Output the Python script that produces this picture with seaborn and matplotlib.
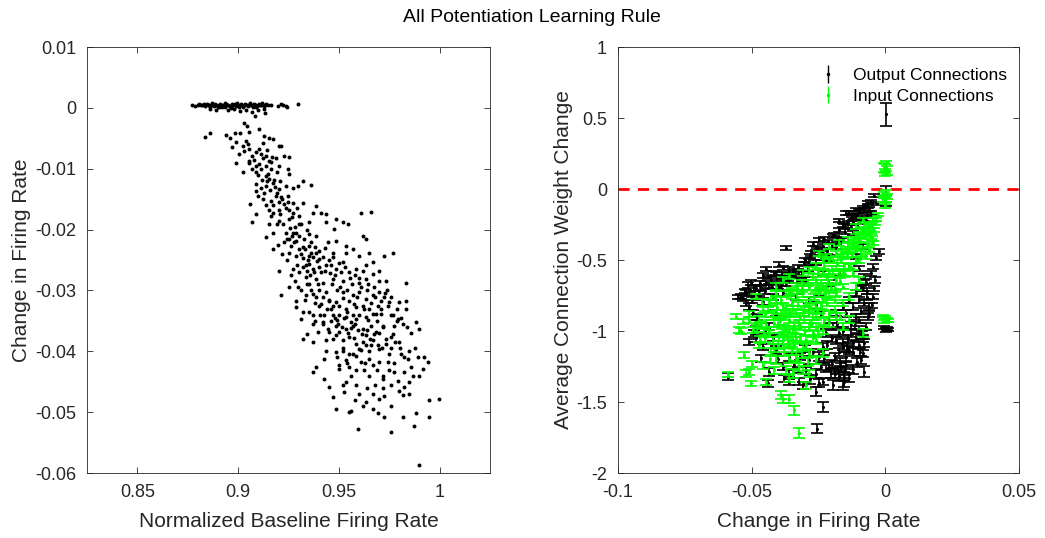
import numpy as np
import pandas as pd
import matplotlib
matplotlib.use("Agg")
import matplotlib.pyplot as plt
import seaborn as sns
from matplotlib.ticker import FuncFormatter

# ---------------- Left panel data ----------------
# top cluster (near zero change)
cluster_rate = [
    0.8770, 0.8785, 0.8800, 0.8808, 0.8815, 0.8822, 0.8830, 0.8836, 0.8843, 0.8850,
    0.8856, 0.8862, 0.8868, 0.8875, 0.8880, 0.8886, 0.8892, 0.8898, 0.8904, 0.8910,
    0.8916, 0.8922, 0.8928, 0.8934, 0.8940, 0.8946, 0.8952, 0.8958, 0.8964, 0.8970,
    0.8976, 0.8982, 0.8988, 0.8994, 0.9000, 0.9006, 0.9012, 0.9018, 0.9024, 0.9030,
    0.9036, 0.9042, 0.9048, 0.9054, 0.9060, 0.9066, 0.9072, 0.9078, 0.9084, 0.9090,
    0.9096, 0.9102, 0.9108, 0.9114, 0.9120, 0.9126, 0.9132, 0.9140, 0.9150, 0.9165,
    0.9200, 0.9215, 0.9225, 0.9235, 0.9242, 0.9296,
    0.8860, 0.8890, 0.8920, 0.8950, 0.8980, 0.9010, 0.9040, 0.9070, 0.9100, 0.9130,
    0.8870, 0.8905, 0.8935, 0.8965, 0.8995, 0.9025, 0.9058, 0.9088, 0.9118,
]
cluster_change = [
    0.0004, 0.0003, 0.0005, 0.0006, 0.0004, 0.0005, 0.0007, 0.0003, 0.0006, 0.0005,
    0.0004, 0.0002, 0.0006, 0.0005, 0.0003, 0.0007, 0.0004, 0.0002, 0.0005, 0.0006,
    0.0003, 0.0005, 0.0004, 0.0001, 0.0006, 0.0004, 0.0005, 0.0003, 0.0002, 0.0006,
    0.0004, 0.0007, 0.0003, 0.0005, 0.0004, 0.0002, 0.0006, 0.0005, 0.0003, 0.0004,
    0.0006, 0.0005, 0.0003, 0.0004, 0.0007, 0.0005, 0.0002, 0.0006, 0.0004, 0.0005,
    0.0003, 0.0006, 0.0005, 0.0004, 0.0006, 0.0003, 0.0005, 0.0007, 0.0004, 0.0005,
    0.0003, 0.0006, 0.0005, 0.0003, 0.0002, 0.0006,
    -0.0002, -0.0003, 0.0001, -0.0004, -0.0002, -0.0005, -0.0003, -0.0006, -0.0004, -0.0002,
    0.0008, 0.0001, 0.0008, 0.0000, 0.0008, 0.0001, 0.0008, 0.0002, 0.0008,
]
# main cloud
cloud_rate = [
    0.9030, 0.9083, 0.9131, 0.8836, 0.8861, 0.8939, 0.8983, 0.9010, 0.9055, 0.9104,
    0.9129, 0.9154, 0.9171, 0.9204, 0.9212, 0.8969, 0.8988, 0.9022, 0.9038, 0.9055,
    0.9030, 0.9104, 0.9121, 0.9071, 0.9079, 0.9113, 0.9121, 0.9137, 0.9154, 0.9187,
    0.9228, 0.9253, 0.8988, 0.9055, 0.9088, 0.9104, 0.9137, 0.9162, 0.9204, 0.9245,
    0.9022, 0.9088, 0.9137, 0.9154, 0.9171, 0.9253, 0.9088, 0.9113, 0.9137, 0.9204,
    0.9237, 0.9270, 0.9295, 0.9361, 0.9320, 0.9058, 0.9121, 0.9162, 0.9187, 0.9220,
    0.9245, 0.9270, 0.9320, 0.9386, 0.9088, 0.9154, 0.9171, 0.9204, 0.9237, 0.9270,
    0.9303, 0.9369, 0.9411, 0.9436, 0.9071, 0.9154, 0.9204, 0.9253, 0.9303, 0.9353,
    0.9436, 0.9485, 0.9518, 0.9543, 0.9137, 0.9171, 0.9237, 0.9253, 0.9270, 0.9303,
    0.9353, 0.9386, 0.9477, 0.9609, 0.9659, 0.9229, 0.9262, 0.9287, 0.9320, 0.9353,
    0.9386, 0.9444, 0.9485, 0.9535, 0.9568, 0.9618, 0.9634, 0.9253, 0.9287, 0.9320,
    0.9353, 0.9402, 0.9469, 0.9535, 0.9601, 0.9651, 0.9725, 0.9767, 0.9204, 0.9270,
    0.9336, 0.9353, 0.9369, 0.9402, 0.9436, 0.9485, 0.9518, 0.9585, 0.9634, 0.9667,
    0.9700, 0.9253, 0.9295, 0.9336, 0.9353, 0.9386, 0.9419, 0.9469, 0.9518, 0.9552,
    0.9601, 0.9634, 0.9667, 0.9734, 0.9833, 0.9215, 0.9287, 0.9336, 0.9369, 0.9436,
    0.9452, 0.9485, 0.9518, 0.9568, 0.9601, 0.9634, 0.9667, 0.9700, 0.9725, 0.9287,
    0.9320, 0.9369, 0.9402, 0.9460, 0.9502, 0.9535, 0.9585, 0.9618, 0.9651, 0.9692,
    0.9750, 0.9800, 0.9833, 0.9311, 0.9369, 0.9419, 0.9469, 0.9493, 0.9535, 0.9560,
    0.9585, 0.9634, 0.9667, 0.9709, 0.9758, 0.9792, 0.9833, 0.9344, 0.9394, 0.9444,
    0.9485, 0.9502, 0.9535, 0.9568, 0.9618, 0.9659, 0.9684, 0.9717, 0.9775, 0.9816,
    0.9882, 0.9899, 0.9320, 0.9369, 0.9436, 0.9485, 0.9518, 0.9552, 0.9585, 0.9634,
    0.9667, 0.9734, 0.9758, 0.9800, 0.9767, 0.9436, 0.9485, 0.9518, 0.9552, 0.9601,
    0.9634, 0.9651, 0.9700, 0.9750, 0.9808, 0.9849, 0.9386, 0.9427, 0.9502, 0.9535,
    0.9585, 0.9609, 0.9651, 0.9667, 0.9700, 0.9742, 0.9775, 0.9841, 0.9891, 0.9924,
    0.9940, 0.9369, 0.9502, 0.9552, 0.9585, 0.9626, 0.9775, 0.9825, 0.9916, 0.9427,
    0.9452, 0.9518, 0.9535, 0.9585, 0.9717, 0.9792, 0.9849, 0.9825, 0.9469, 0.9527,
    0.9667, 0.9700, 0.9725, 0.9816, 0.9485, 0.9552, 0.9560, 0.9634, 0.9667, 0.9692,
    0.9725, 0.9816, 0.9882, 0.9949, 0.9998, 0.9949, 0.9593, 0.9758, 0.9874, 0.9896,
    0.9180, 0.9195, 0.9215, 0.9230, 0.9245, 0.9175, 0.9160, 0.9150, 0.9120, 0.9100,
    0.9210, 0.9225, 0.9255, 0.9280, 0.9275, 0.9300, 0.9310, 0.9330, 0.9345, 0.9360,
    0.9340, 0.9355, 0.9375, 0.9390, 0.9410, 0.9430, 0.9450, 0.9455, 0.9465, 0.9480,
    0.9490, 0.9505, 0.9520, 0.9540, 0.9550, 0.9565, 0.9575, 0.9590, 0.9610, 0.9625,
    0.9640, 0.9660, 0.9680, 0.9690, 0.9710, 0.9720, 0.9740, 0.9500, 0.9515, 0.9545,
    0.9575, 0.9595, 0.9620, 0.9645, 0.9660, 0.9700, 0.9570, 0.9460, 0.9440, 0.9420,
    0.9400, 0.9380, 0.9395, 0.9370, 0.9320, 0.9300, 0.9290, 0.9265, 0.9240, 0.9195,
    0.9175, 0.9165, 0.9140, 0.9130, 0.9090, 0.9070, 0.9055, 0.9005, 0.8960, 0.9045,
    0.9050, 0.9090, 0.9145, 0.9170, 0.9115, 0.9165, 0.9195, 0.9210, 0.9100, 0.9145,
    0.9185, 0.9205, 0.9250, 0.9265, 0.9290, 0.9310, 0.9340, 0.9285, 0.9325, 0.9360,
    0.9380, 0.9400, 0.9420, 0.9430, 0.9460, 0.9470, 0.9500, 0.9510, 0.9530, 0.9555,
    0.9580, 0.9600, 0.9620, 0.9645, 0.9675, 0.9700, 0.9730, 0.9760, 0.9790, 0.9810,
    0.9340, 0.9360, 0.9385, 0.9410, 0.9425, 0.9450, 0.9470, 0.9480, 0.9495, 0.9525,
    0.9540, 0.9560, 0.9580, 0.9600, 0.9615, 0.9640, 0.9655, 0.9675, 0.9695, 0.9715,
    0.9735, 0.9760, 0.9780, 0.9805, 0.9825, 0.9860, 0.9870, 0.9750, 0.9720, 0.9690,
    0.9650, 0.9630, 0.9610, 0.9570, 0.9540, 0.9520, 0.9490, 0.9470, 0.9450, 0.9420,
    0.9405, 0.9380, 0.9350, 0.9330, 0.9310, 0.9280, 0.9260, 0.9240, 0.9220, 0.9200,
    0.9720, 0.9760, 0.9800, 0.9680, 0.9640, 0.9600, 0.9560, 0.9620, 0.9580, 0.9760,
    0.9850, 0.9900, 0.9880, 0.9860, 0.9840, 0.9790, 0.9770, 0.9745, 0.9710, 0.9685,
]
cloud_change = [
    -0.0025, -0.0014, -0.0009, -0.0048, -0.0041, -0.0045, -0.0042, -0.0041, -0.0040, -0.0035,
    -0.0046, -0.0049, -0.0051, -0.0063, -0.0062, -0.0064, -0.0056, -0.0063, -0.0055, -0.0068,
    -0.0071, -0.0068, -0.0057, -0.0079, -0.0085, -0.0076, -0.0082, -0.0079, -0.0087, -0.0082,
    -0.0079, -0.0080, -0.0091, -0.0090, -0.0096, -0.0093, -0.0096, -0.0089, -0.0096, -0.0101,
    -0.0106, -0.0106, -0.0112, -0.0117, -0.0123, -0.0109, -0.0137, -0.0131, -0.0128, -0.0134,
    -0.0128, -0.0131, -0.0128, -0.0127, -0.0120, -0.0158, -0.0150, -0.0153, -0.0145, -0.0150,
    -0.0155, -0.0156, -0.0156, -0.0161, -0.0175, -0.0167, -0.0172, -0.0167, -0.0164, -0.0172,
    -0.0177, -0.0172, -0.0172, -0.0175, -0.0188, -0.0191, -0.0186, -0.0183, -0.0191, -0.0188,
    -0.0188, -0.0183, -0.0188, -0.0191, -0.0213, -0.0232, -0.0205, -0.0216, -0.0205, -0.0210,
    -0.0207, -0.0210, -0.0199, -0.0172, -0.0171, -0.0221, -0.0227, -0.0218, -0.0229, -0.0227,
    -0.0238, -0.0221, -0.0218, -0.0227, -0.0232, -0.0210, -0.0216, -0.0238, -0.0243, -0.0246,
    -0.0243, -0.0248, -0.0238, -0.0238, -0.0243, -0.0238, -0.0243, -0.0238, -0.0268, -0.0265,
    -0.0259, -0.0257, -0.0265, -0.0262, -0.0259, -0.0265, -0.0254, -0.0265, -0.0259, -0.0254,
    -0.0268, -0.0295, -0.0295, -0.0278, -0.0289, -0.0281, -0.0287, -0.0281, -0.0284, -0.0270,
    -0.0287, -0.0281, -0.0273, -0.0284, -0.0287, -0.0308, -0.0317, -0.0308, -0.0306, -0.0303,
    -0.0317, -0.0319, -0.0303, -0.0308, -0.0303, -0.0314, -0.0308, -0.0303, -0.0311, -0.0328,
    -0.0336, -0.0341, -0.0325, -0.0330, -0.0325, -0.0330, -0.0328, -0.0325, -0.0330, -0.0325,
    -0.0319, -0.0319, -0.0317, -0.0347, -0.0355, -0.0352, -0.0341, -0.0349, -0.0344, -0.0352,
    -0.0347, -0.0344, -0.0339, -0.0339, -0.0341, -0.0347, -0.0330, -0.0371, -0.0369, -0.0363,
    -0.0358, -0.0369, -0.0363, -0.0358, -0.0363, -0.0358, -0.0369, -0.0358, -0.0358, -0.0355,
    -0.0352, -0.0363, -0.0379, -0.0385, -0.0382, -0.0374, -0.0382, -0.0377, -0.0388, -0.0374,
    -0.0382, -0.0379, -0.0377, -0.0385, -0.0371, -0.0399, -0.0401, -0.0399, -0.0404, -0.0396,
    -0.0390, -0.0399, -0.0396, -0.0404, -0.0404, -0.0399, -0.0426, -0.0412, -0.0423, -0.0415,
    -0.0407, -0.0418, -0.0412, -0.0423, -0.0418, -0.0418, -0.0420, -0.0412, -0.0410, -0.0410,
    -0.0418, -0.0434, -0.0429, -0.0426, -0.0431, -0.0431, -0.0434, -0.0434, -0.0429, -0.0445,
    -0.0459, -0.0456, -0.0450, -0.0456, -0.0445, -0.0448, -0.0450, -0.0459, -0.0475, -0.0467,
    -0.0470, -0.0478, -0.0473, -0.0472, -0.0494, -0.0500, -0.0498, -0.0483, -0.0494, -0.0502,
    -0.0508, -0.0508, -0.0502, -0.0480, -0.0478, -0.0508, -0.0527, -0.0533, -0.0522, -0.0587,
    -0.0118, -0.0140, -0.0147, -0.0158, -0.0144, -0.0160, -0.0135, -0.0108, -0.0118, -0.0110,
    -0.0175, -0.0190, -0.0198, -0.0196, -0.0220, -0.0232, -0.0240, -0.0232, -0.0250, -0.0238,
    -0.0268, -0.0275, -0.0270, -0.0252, -0.0270, -0.0268, -0.0250, -0.0272, -0.0290, -0.0275,
    -0.0300, -0.0295, -0.0312, -0.0300, -0.0318, -0.0290, -0.0322, -0.0310, -0.0295, -0.0330,
    -0.0300, -0.0320, -0.0310, -0.0350, -0.0318, -0.0360, -0.0300, -0.0340, -0.0360, -0.0370,
    -0.0378, -0.0365, -0.0385, -0.0348, -0.0390, -0.0370, -0.0340, -0.0350, -0.0330, -0.0310,
    -0.0300, -0.0320, -0.0290, -0.0245, -0.0262, -0.0270, -0.0258, -0.0210, -0.0215, -0.0190,
    -0.0205, -0.0178, -0.0160, -0.0140, -0.0125, -0.0100, -0.0088, -0.0075, -0.0050, -0.0030,
    -0.0060, -0.0072, -0.0070, -0.0080, -0.0100, -0.0100, -0.0105, -0.0120, -0.0145, -0.0120,
    -0.0130, -0.0155, -0.0168, -0.0180, -0.0165, -0.0190, -0.0200, -0.0205, -0.0215, -0.0220,
    -0.0228, -0.0235, -0.0245, -0.0230, -0.0258, -0.0245, -0.0255, -0.0270, -0.0262, -0.0280,
    -0.0275, -0.0280, -0.0268, -0.0290, -0.0295, -0.0285, -0.0305, -0.0310, -0.0330, -0.0345,
    -0.0290, -0.0300, -0.0310, -0.0322, -0.0340, -0.0315, -0.0325, -0.0345, -0.0355, -0.0345,
    -0.0335, -0.0362, -0.0355, -0.0340, -0.0372, -0.0365, -0.0380, -0.0372, -0.0390, -0.0395,
    -0.0388, -0.0395, -0.0385, -0.0395, -0.0410, -0.0425, -0.0440, -0.0430, -0.0440, -0.0430,
    -0.0440, -0.0420, -0.0398, -0.0405, -0.0420, -0.0395, -0.0410, -0.0380, -0.0368, -0.0355,
    -0.0340, -0.0350, -0.0335, -0.0315, -0.0300, -0.0285, -0.0275, -0.0250, -0.0240, -0.0225,
    -0.0460, -0.0455, -0.0465, -0.0455, -0.0460, -0.0470, -0.0440, -0.0490, -0.0480, -0.0490,
    -0.0470, -0.0440, -0.0395, -0.0370, -0.0360, -0.0350, -0.0340, -0.0325, -0.0330, -0.0338,
]

# ---------------- Right panel data ----------------
output_rate = [
    0.0002, 0.0002, -0.0004, 0.0006, 0.0001, 0.0010,
    -0.0372, -0.0446, -0.0459, -0.0515, -0.0502, -0.0428, -0.0397, -0.0384, -0.0359, -0.0340,
    -0.0303, -0.0284, -0.0272, -0.0247, -0.0228, -0.0191, -0.0160, -0.0172, -0.0141, -0.0122,
    -0.0110, -0.0097, -0.0085, -0.0079, -0.0066, -0.0054, -0.0041, -0.0135, -0.0116, -0.0234,
    -0.0209, -0.0322, -0.0415, -0.0359, -0.0309, -0.0484, -0.0534, -0.0521, -0.0509, -0.0471,
    -0.0459, -0.0496, -0.0484, -0.0490, -0.0509, -0.0484, -0.0459, -0.0465, -0.0434, -0.0440,
    -0.0378, -0.0359, -0.0322, -0.0309, -0.0328, -0.0384, -0.0590, -0.0254, -0.0234, -0.0259,
    -0.0247, -0.0234, -0.0160, -0.0153, -0.0178, -0.0166, -0.0147, -0.0203, -0.0222, -0.0079,
    -0.0091, -0.0085, -0.0079, -0.0087, -0.0072, -0.0066, -0.0060, -0.0047, -0.0041, -0.0037,
    -0.0054, -0.0047, -0.0035, -0.0022, -0.0097, -0.0110, -0.0122, -0.0135, -0.0147, -0.0160,
    -0.0185, -0.0172, -0.0197, -0.0209, -0.0147, -0.0122, -0.0097, -0.0110, -0.0085, -0.0072,
    -0.0135, -0.0160, -0.0185, -0.0222, -0.0234, -0.0247, -0.0284, -0.0297, -0.0359, -0.0409,
    -0.0434, -0.0409, -0.0384, -0.0334, -0.0284, -0.0247, -0.0209, -0.0172, -0.0135, -0.0110,
    -0.0085, -0.0521, -0.0540, -0.0434, -0.0403, -0.0359, -0.0278, -0.0259, -0.0297, -0.0234,
    -0.0185, -0.0160, -0.0122, -0.0104, -0.0072, -0.0054, -0.0110, -0.0147,
    -0.0450, -0.0420, -0.0390, -0.0370, -0.0330, -0.0310, -0.0290, -0.0260, -0.0240, -0.0220,
    -0.0200, -0.0180, -0.0150, -0.0130, -0.0100, -0.0070, -0.0060, -0.0030, -0.0100, -0.0080,
    -0.0090, -0.0070, -0.0060, -0.0050, -0.0110, -0.0130, -0.0100, -0.0120, -0.0140, -0.0160,
    -0.0180, -0.0200, -0.0220, -0.0190, -0.0170, -0.0150, -0.0200, -0.0240, -0.0260, -0.0280,
    -0.0270, -0.0300, -0.0320, -0.0340, -0.0360, -0.0400, -0.0420, -0.0450, -0.0480, -0.0500,
    -0.0550, -0.0525, -0.0490, -0.0470, -0.0440, -0.0410, -0.0395, -0.0365, -0.0240, -0.0260,
    -0.0230, -0.0210, -0.0190, -0.0175, -0.0160, -0.0145, -0.0130, -0.0115, -0.0100, -0.0090,
    -0.0080, -0.0070, -0.0085, -0.0095, -0.0105, -0.0120, -0.0135, -0.0155, -0.0175, -0.0195,
    -0.0505, -0.0485, -0.0465, -0.0445, -0.0425, -0.0405, -0.0385, -0.0345, -0.0325, -0.0300,
    -0.0280, -0.0255, -0.0235, -0.0215, -0.0195, -0.0175, -0.0155, -0.0125, -0.0105, -0.0065,
]
output_weight = [
    0.525, -0.050, -0.974, -0.984, -0.993, -0.988,
    -0.416, -0.565, -0.612, -0.675, -0.659, -0.640, -0.534, -0.558, -0.569, -0.593,
    -0.527, -0.511, -0.386, -0.358, -0.351, -0.322, -0.252, -0.224, -0.235, -0.235,
    -0.216, -0.158, -0.134, -0.146, -0.099, -0.087, -0.047, -0.169, -0.193, -0.452,
    -0.487, -0.605, -0.593, -0.640, -0.664, -0.699, -0.769, -0.805, -0.828, -0.734,
    -0.793, -0.875, -0.946, -1.016, -1.075, -1.052, -1.111, -1.193, -1.287, -1.369,
    -1.334, -1.358, -1.358, -1.381, -1.275, -1.252, -1.322, -1.687, -1.534, -1.428,
    -1.369, -1.358, -1.381, -1.322, -1.275, -1.252, -1.240, -1.299, -1.264, -1.287,
    -1.205, -1.158, -1.087, -1.028, -0.969, -0.899, -0.828, -0.758, -0.699, -0.640,
    -0.593, -0.546, -0.487, -0.440, -0.993, -1.040, -1.087, -1.134, -1.181, -1.111,
    -1.064, -1.016, -0.969, -0.922, -0.875, -0.828, -0.781, -0.734, -0.699, -0.652,
    -0.781, -0.828, -0.875, -1.016, -1.111, -1.181, -1.205, -1.275, -1.181, -1.134,
    -0.969, -0.875, -0.734, -0.758, -0.781, -0.734, -0.664, -0.593, -0.546, -0.475,
    -0.405, -0.734, -0.758, -0.687, -0.687, -0.734, -0.452, -0.416, -0.640, -0.593,
    -0.405, -0.358, -0.311, -0.264, -0.216, -0.169, -0.146, -0.169,
    -0.720, -0.760, -0.700, -0.660, -0.640, -0.600, -0.560, -0.520, -0.480, -0.440,
    -0.400, -0.350, -0.300, -0.270, -0.230, -0.180, -0.140, -0.100, -0.560, -0.620,
    -0.700, -0.760, -0.880, -0.820, -0.900, -0.960, -1.100, -1.150, -1.050, -1.000,
    -0.950, -1.050, -1.100, -1.180, -1.220, -1.280, -1.230, -1.250, -1.300, -1.340,
    -1.150, -1.120, -1.180, -1.240, -1.300, -1.200, -1.050, -1.000, -0.900, -0.780,
    -0.760, -0.720, -0.700, -0.660, -0.620, -0.600, -0.620, -0.630, -0.880, -0.820,
    -1.200, -1.250, -1.300, -1.150, -1.080, -1.120, -1.020, -0.960, -0.920, -0.860,
    -0.800, -0.720, -1.050, -1.150, -1.220, -1.270, -1.330, -1.360, -1.320, -1.380,
    -0.740, -0.770, -0.700, -0.660, -0.690, -0.630, -0.600, -0.580, -0.550, -0.500,
    -0.470, -0.430, -0.400, -0.370, -0.330, -0.290, -0.260, -0.210, -0.180, -0.120,
]
output_err = [
    0.078, 0.070, 0.012, 0.010, 0.012, 0.010,
    0.012, 0.015, 0.018, 0.020, 0.015, 0.020, 0.018, 0.015, 0.020, 0.018,
    0.015, 0.018, 0.015, 0.012, 0.015, 0.012, 0.015, 0.010, 0.012, 0.015,
    0.012, 0.015, 0.012, 0.015, 0.012, 0.010, 0.010, 0.015, 0.015, 0.018,
    0.020, 0.020, 0.018, 0.020, 0.018, 0.020, 0.022, 0.020, 0.022, 0.020,
    0.022, 0.025, 0.022, 0.025, 0.022, 0.025, 0.022, 0.025, 0.028, 0.025,
    0.025, 0.022, 0.025, 0.025, 0.022, 0.025, 0.025, 0.032, 0.035, 0.032,
    0.028, 0.025, 0.035, 0.030, 0.025, 0.028, 0.025, 0.030, 0.025, 0.038,
    0.030, 0.025, 0.028, 0.025, 0.022, 0.025, 0.022, 0.020, 0.018, 0.020,
    0.018, 0.020, 0.015, 0.015, 0.025, 0.028, 0.025, 0.028, 0.030, 0.025,
    0.025, 0.028, 0.025, 0.022, 0.025, 0.022, 0.020, 0.022, 0.020, 0.018,
    0.022, 0.025, 0.022, 0.028, 0.025, 0.030, 0.028, 0.025, 0.028, 0.025,
    0.025, 0.022, 0.020, 0.022, 0.020, 0.022, 0.020, 0.018, 0.020, 0.018,
    0.018, 0.020, 0.018, 0.020, 0.018, 0.020, 0.018, 0.015, 0.020, 0.018,
    0.015, 0.015, 0.012, 0.015, 0.012, 0.012, 0.012, 0.012,
    0.020, 0.020, 0.020, 0.020, 0.020, 0.020, 0.020, 0.018, 0.018, 0.018,
    0.018, 0.015, 0.015, 0.015, 0.015, 0.012, 0.012, 0.012, 0.020, 0.020,
    0.020, 0.020, 0.022, 0.020, 0.022, 0.025, 0.025, 0.028, 0.025, 0.025,
    0.025, 0.025, 0.028, 0.028, 0.028, 0.030, 0.028, 0.028, 0.030, 0.030,
    0.025, 0.025, 0.025, 0.025, 0.025, 0.025, 0.022, 0.022, 0.022, 0.020,
    0.015, 0.015, 0.015, 0.015, 0.015, 0.015, 0.015, 0.015, 0.022, 0.022,
    0.028, 0.030, 0.030, 0.028, 0.025, 0.028, 0.025, 0.025, 0.022, 0.022,
    0.022, 0.020, 0.025, 0.028, 0.030, 0.030, 0.032, 0.032, 0.030, 0.032,
    0.015, 0.015, 0.015, 0.015, 0.015, 0.015, 0.015, 0.015, 0.015, 0.015,
    0.015, 0.015, 0.012, 0.012, 0.012, 0.012, 0.012, 0.012, 0.012, 0.012,
]

input_rate = [
    0.0002, -0.0002, 0.0005, 0.0000, -0.0005,
    -0.0004, 0.0002, 0.0000, 0.0006, -0.0002, -0.0008, 0.0004,
    -0.0010, -0.0002, 0.0005, 0.0011, -0.0004,
    -0.0590, -0.0527, -0.0509, -0.0502, -0.0446, -0.0390, -0.0384, -0.0359, -0.0340, -0.0324,
    -0.0297, -0.0546, -0.0534, -0.0496, -0.0471, -0.0484, -0.0459, -0.0428, -0.0459, -0.0409,
    -0.0415, -0.0372, -0.0359, -0.0309, -0.0284,
    -0.0434, -0.0415, -0.0397, -0.0384, -0.0372, -0.0359, -0.0347, -0.0334, -0.0322, -0.0309,
    -0.0297, -0.0284, -0.0272, -0.0259, -0.0359, -0.0334, -0.0309, -0.0284, -0.0384, -0.0409,
    -0.0434, -0.0359, -0.0334, -0.0309, -0.0284, -0.0259, -0.0234, -0.0247, -0.0222, -0.0209,
    -0.0234, -0.0209, -0.0384, -0.0409, -0.0359, -0.0309, -0.0284, -0.0259, -0.0234, -0.0247,
    -0.0222, -0.0209, -0.0197, -0.0185, -0.0172, -0.0160, -0.0147, -0.0141, -0.0122, -0.0110,
    -0.0097, -0.0085, -0.0072, -0.0066, -0.0054, -0.0047, -0.0041, -0.0035, -0.0029, -0.0047,
    -0.0085, -0.0110, -0.0135, -0.0160, -0.0185, -0.0122, -0.0097, -0.0110, -0.0135, -0.0160,
    -0.0185, -0.0209, -0.0234, -0.0259, -0.0234, -0.0259, -0.0160, -0.0135, -0.0085, -0.0347,
    -0.0397, -0.0421, -0.0453, -0.0471, -0.0509, -0.0334, -0.0372, -0.0297, -0.0272, -0.0322,
    -0.0347, -0.0234, -0.0259, -0.0284, -0.0185, -0.0160, -0.0072, -0.0060, -0.0097,
    -0.0420, -0.0400, -0.0380, -0.0360, -0.0340, -0.0320, -0.0300, -0.0280, -0.0260, -0.0240,
    -0.0220, -0.0200, -0.0180, -0.0160, -0.0140, -0.0120, -0.0100, -0.0080, -0.0060, -0.0040,
    -0.0390, -0.0370, -0.0350, -0.0330, -0.0310, -0.0290, -0.0270, -0.0250, -0.0230, -0.0210,
    -0.0400, -0.0380, -0.0360, -0.0340, -0.0320, -0.0300, -0.0280, -0.0260, -0.0240, -0.0220,
    -0.0440, -0.0460, -0.0470, -0.0450, -0.0430, -0.0500, -0.0520, -0.0560, -0.0540, -0.0510,
    -0.0190, -0.0170, -0.0150, -0.0130, -0.0110, -0.0090, -0.0070, -0.0050, -0.0190, -0.0170,
    -0.0445, -0.0435, -0.0425, -0.0415, -0.0405, -0.0395, -0.0385, -0.0375, -0.0365, -0.0355,
    -0.0345, -0.0335, -0.0325, -0.0315, -0.0305, -0.0295, -0.0285, -0.0275, -0.0265, -0.0255,
    -0.0245, -0.0235, -0.0225, -0.0215, -0.0205, -0.0195, -0.0185, -0.0175, -0.0165, -0.0155,
    -0.0145, -0.0135, -0.0125, -0.0115, -0.0105, -0.0095, -0.0085, -0.0075, -0.0065, -0.0055,
    -0.0390, -0.0370, -0.0350, -0.0330, -0.0310, -0.0410, -0.0430, -0.0450, -0.0480, -0.0470,
    -0.0380, -0.0350, -0.0330, -0.0310, -0.0290, -0.0270, -0.0250, -0.0230, -0.0210, -0.0190,
]
input_weight = [
    0.165, 0.146, 0.132, 0.118, 0.153,
    -0.040, -0.064, -0.087, -0.052, -0.111, -0.071, -0.028,
    -0.894, -0.904, -0.922, -0.927, -0.934,
    -1.306, -1.169, -1.287, -1.369, -1.358, -1.452, -1.482, -1.482, -1.558, -1.718,
    -1.381, -0.993, -0.934, -0.993, -1.099, -0.758, -0.852, -1.146, -1.240, -1.205,
    -1.275, -1.275, -1.334, -1.275, -1.299,
    -0.993, -0.946, -0.899, -1.064, -0.993, -0.922, -0.852, -1.016, -0.946, -0.875,
    -0.805, -0.969, -0.899, -0.828, -1.093, -1.181, -1.111, -1.158, -0.828, -0.781,
    -0.805, -0.734, -0.687, -0.734, -0.687, -0.640, -0.593, -0.734, -0.687, -0.593,
    -0.781, -0.758, -0.640, -0.687, -0.616, -0.593, -0.569, -0.546, -0.499, -0.452,
    -0.475, -0.405, -0.499, -0.452, -0.381, -0.475, -0.428, -0.358, -0.405, -0.334,
    -0.358, -0.287, -0.311, -0.252, -0.334, -0.381, -0.287, -0.216, -0.181, -0.216,
    -0.216, -0.264, -0.546, -0.593, -0.640, -0.593, -0.640, -0.687, -0.758, -0.805,
    -0.899, -0.946, -0.993, -1.064, -1.158, -1.205, -0.969, -0.922, -1.016, -1.064,
    -1.040, -1.064, -1.016, -0.922, -0.922, -0.875, -0.875, -1.064, -1.016, -1.252,
    -1.299, -0.875, -0.969, -0.875, -0.734, -0.687, -0.475, -0.428, -0.499,
    -0.900, -0.950, -0.980, -1.000, -0.960, -0.900, -0.850, -0.780, -0.700, -0.660,
    -0.620, -0.560, -0.520, -0.440, -0.400, -0.380, -0.320, -0.300, -0.270, -0.240,
    -0.880, -0.840, -0.800, -0.760, -0.700, -0.660, -0.620, -0.580, -0.540, -0.500,
    -1.100, -1.150, -1.200, -1.100, -1.050, -1.000, -0.950, -0.900, -0.820, -0.800,
    -0.850, -0.800, -0.960, -1.050, -1.200, -1.230, -1.300, -0.900, -1.000, -0.880,
    -0.700, -0.650, -0.600, -0.550, -0.500, -0.450, -0.400, -0.350, -0.850, -0.900,
    -0.950, -1.020, -0.880, -1.120, -0.830, -0.930, -1.010, -0.900, -1.080, -0.870,
    -0.990, -1.050, -0.820, -0.970, -0.920, -1.100, -0.840, -0.950, -0.760, -0.860,
    -0.720, -0.680, -0.740, -0.640, -0.700, -0.600, -0.560, -0.580, -0.500, -0.540,
    -0.470, -0.440, -0.460, -0.400, -0.420, -0.360, -0.340, -0.300, -0.320, -0.260,
    -0.780, -0.740, -0.720, -0.700, -0.660, -0.740, -0.800, -0.880, -0.980, -1.060,
    -1.120, -1.140, -1.200, -1.160, -1.220, -1.050, -1.000, -0.930, -0.880, -0.780,
]
input_err = [
    0.035, 0.030, 0.030, 0.025, 0.030,
    0.020, 0.025, 0.022, 0.020, 0.020, 0.022, 0.020,
    0.010, 0.010, 0.012, 0.010, 0.010,
    0.020, 0.018, 0.020, 0.020, 0.022, 0.030, 0.028, 0.028, 0.032, 0.035,
    0.025, 0.020, 0.018, 0.022, 0.022, 0.020, 0.022, 0.025, 0.025, 0.028,
    0.025, 0.028, 0.025, 0.028, 0.025,
    0.022, 0.025, 0.022, 0.025, 0.028, 0.022, 0.025, 0.028, 0.025, 0.022,
    0.025, 0.028, 0.025, 0.022, 0.028, 0.030, 0.028, 0.025, 0.022, 0.025,
    0.022, 0.020, 0.022, 0.025, 0.022, 0.020, 0.022, 0.025, 0.022, 0.020,
    0.022, 0.025, 0.020, 0.022, 0.020, 0.022, 0.020, 0.022, 0.020, 0.018,
    0.020, 0.018, 0.020, 0.018, 0.020, 0.018, 0.020, 0.018, 0.015, 0.018,
    0.015, 0.018, 0.015, 0.015, 0.018, 0.015, 0.015, 0.012, 0.012, 0.015,
    0.015, 0.018, 0.020, 0.022, 0.020, 0.022, 0.020, 0.022, 0.025, 0.022,
    0.025, 0.025, 0.028, 0.025, 0.028, 0.030, 0.025, 0.025, 0.028, 0.025,
    0.028, 0.025, 0.028, 0.025, 0.022, 0.025, 0.022, 0.028, 0.025, 0.028,
    0.030, 0.025, 0.028, 0.025, 0.022, 0.020, 0.018, 0.018, 0.020,
    0.025, 0.025, 0.025, 0.025, 0.025, 0.025, 0.025, 0.022, 0.022, 0.022,
    0.022, 0.020, 0.020, 0.020, 0.020, 0.018, 0.018, 0.018, 0.018, 0.015,
    0.025, 0.025, 0.025, 0.022, 0.022, 0.022, 0.022, 0.022, 0.022, 0.020,
    0.028, 0.028, 0.028, 0.028, 0.028, 0.025, 0.025, 0.025, 0.022, 0.022,
    0.022, 0.022, 0.022, 0.025, 0.025, 0.022, 0.022, 0.018, 0.018, 0.020,
    0.022, 0.022, 0.022, 0.020, 0.020, 0.020, 0.018, 0.018, 0.025, 0.025,
    0.025, 0.025, 0.022, 0.028, 0.022, 0.025, 0.025, 0.022, 0.028, 0.022,
    0.025, 0.028, 0.022, 0.025, 0.025, 0.028, 0.022, 0.025, 0.022, 0.022,
    0.022, 0.020, 0.022, 0.020, 0.022, 0.020, 0.020, 0.020, 0.018, 0.020,
    0.018, 0.018, 0.018, 0.018, 0.018, 0.015, 0.015, 0.015, 0.015, 0.015,
    0.022, 0.022, 0.022, 0.020, 0.020, 0.022, 0.022, 0.022, 0.025, 0.025,
    0.028, 0.028, 0.028, 0.028, 0.028, 0.025, 0.025, 0.025, 0.022, 0.022,
]

title_text = "All Potentiation Learning Rule"
left_xticks = [0.85, 0.9, 0.95, 1.0]
left_yticks = [0.01, 0, -0.01, -0.02, -0.03, -0.04, -0.05, -0.06]
right_xticks = [-0.1, -0.05, 0, 0.05]
right_yticks = [1, 0.5, 0, -0.5, -1, -1.5, -2]

# ---------------- Styling ----------------
sns.set_theme(style="white")
plt.rcParams["font.family"] = ["Liberation Sans", "DejaVu Sans"]
plt.rcParams["axes.unicode_minus"] = False
axis_col = "#262626"
green = "#00ff00"

fig = plt.figure(figsize=(10.45, 5.38), dpi=100)
ax1 = fig.add_axes([0.0833, 0.1208, 0.3856, 0.7918])
ax2 = fig.add_axes([0.5914, 0.1208, 0.3837, 0.7918])

def fmt(v, pos):
    return "%g" % round(v, 4)

for ax in (ax1, ax2):
    for sp in ax.spines.values():
        sp.set_visible(True)
        sp.set_color(axis_col)
        sp.set_linewidth(0.6)
    ax.tick_params(direction="in", length=4, width=0.6, colors=axis_col,
                   labelsize=13, top=True, right=True, bottom=True, left=True,
                   labelcolor=axis_col, pad=8)
    ax.xaxis.set_major_formatter(FuncFormatter(fmt))
    ax.yaxis.set_major_formatter(FuncFormatter(fmt))

# Left scatter
left_df = pd.DataFrame({
    "rate": cluster_rate + cloud_rate,
    "change": cluster_change + cloud_change,
})
sns.scatterplot(data=left_df, x="rate", y="change", ax=ax1, color="black",
                s=8, linewidth=0, edgecolor=None, legend=False)
ax1.set_xlim(0.825, 1.025)
ax1.set_ylim(-0.06, 0.01)
ax1.set_xticks(left_xticks)
ax1.set_yticks(left_yticks)
ax1.set_xlabel("Normalized Baseline Firing Rate", fontsize=15, color=axis_col, labelpad=8)
ax1.set_ylabel("Change in Firing Rate", fontsize=15, color=axis_col, labelpad=3)

# Right errorbars
ax2.axhline(0, color="red", linestyle=(0, (4, 3)), linewidth=2, zorder=1)
ax2.errorbar(output_rate, output_weight, yerr=output_err, fmt="none",
             ecolor="black", elinewidth=1.2, capsize=4.2, capthick=1.2, zorder=2)
out_df = pd.DataFrame({"rate": output_rate, "weight": output_weight})
sns.scatterplot(data=out_df, x="rate", y="weight", ax=ax2, color="black",
                s=5, linewidth=0, legend=False, zorder=2.5)
ax2.errorbar(input_rate, input_weight, yerr=input_err, fmt="none",
             ecolor=green, elinewidth=1.2, capsize=4.2, capthick=1.2, zorder=3)
in_df = pd.DataFrame({"rate": input_rate, "weight": input_weight})
sns.scatterplot(data=in_df, x="rate", y="weight", ax=ax2, color=green,
                s=5, linewidth=0, legend=False, zorder=3.5)
ax2.set_xlim(-0.1, 0.05)
ax2.set_ylim(-2, 1)
ax2.set_xticks(right_xticks)
ax2.set_yticks(right_yticks)
ax2.set_xlabel("Change in Firing Rate", fontsize=15, color=axis_col, labelpad=8)
ax2.set_ylabel("Average Connection Weight Change", fontsize=15, color=axis_col, labelpad=2)

h_out = ax2.errorbar([], [], yerr=[], fmt=".", color="black", ecolor="black",
                     elinewidth=1.0, capsize=3, markersize=3)
h_in = ax2.errorbar([], [], yerr=[], fmt=".", color=green, ecolor=green,
                    elinewidth=1.0, capsize=3, markersize=3)
leg = ax2.legend([h_out, h_in], ["Output Connections", "Input Connections"],
                 loc="upper right", bbox_to_anchor=(0.995, 0.975), frameon=False,
                 fontsize=12.5, handlelength=1.0, handletextpad=0.9,
                 borderaxespad=0.2, labelspacing=0.3)
for t in leg.get_texts():
    t.set_color("black")

fig.text(0.509, 0.968, title_text, fontsize=14, ha="center", va="center", color="black")
fig.savefig("out.png", dpi=100)
